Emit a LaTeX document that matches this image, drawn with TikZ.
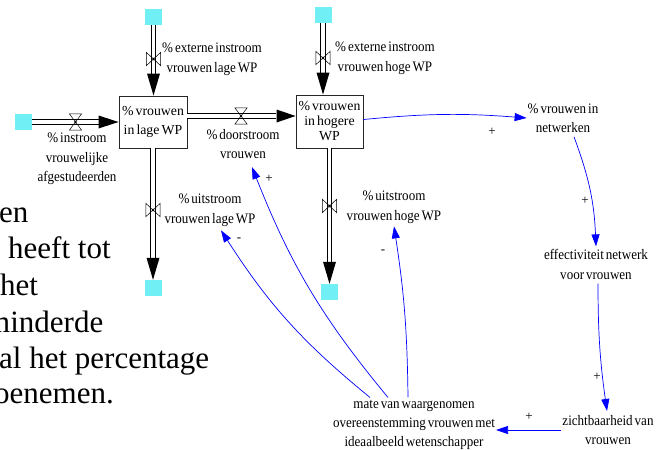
\documentclass[tikz,border=0pt]{standalone}
\usepackage{fontspec}
\setmainfont{Liberation Serif}
\newfontfamily\lblfont{Liberation Serif}
\usetikzlibrary{arrows.meta,calc}
\definecolor{cloudc}{RGB}{112,240,245}
\definecolor{linkblue}{RGB}{0,0,255}
\begin{document}
\begin{tikzpicture}[x=1pt,y=-1pt,
  tightspace/.style={execute at begin node={\spaceskip=0.15em\relax}},
  lbl/.style={font=\lblfont\fontsize{14.5}{19.5}\selectfont, tightspace, align=center, inner sep=1pt, xscale=0.9, transform shape},
  stock/.style={draw=black!85, line width=0.9pt, minimum width=68pt, minimum height=52pt, inner sep=0pt, align=center, tightspace},
  cloud/.style={fill=cloudc, minimum width=17pt, minimum height=16pt, inner sep=0pt},
  pipe/.style={draw=black, line width=1pt, double=white, double distance=3.2pt, shorten >=20pt},
  pipehead/.style={fill=black, draw=none},
  vvalve/.style={minimum width=14pt, minimum height=13pt, inner sep=0pt},
  hvalve/.style={minimum width=12pt, minimum height=16pt, inner sep=0pt},
  valveline/.style={line width=0.5pt},
  link/.style={draw=linkblue, line width=0.7pt, -{Triangle[length=12pt,width=8pt]}},
  sign/.style={font=\lblfont\fontsize{13}{13}\selectfont, inner sep=0pt},
  bgtext/.style={anchor=base west, inner sep=0pt, font=\fontsize{31}{36}\selectfont}
]
\useasboundingbox (0,0) rectangle (667,450);
\fill[white] (0,0) rectangle (667,450);

% background slide text (clipped at the left edge)
\begin{scope}
\clip (0,0) rectangle (667,450);
\node[bgtext] (bg1) at (-1,222) {en};
\node[bgtext] (bg2) at (8,258) {heeft tot};
\node[bgtext] (bg3) at (0,295) {het};
\node[bgtext] (bg4) at (-14,332) {minderde};
\node[bgtext] (bg5) at (-1,368) {al het percentage};
\node[bgtext] (bg6) at (-6,403) {oenemen.};
\end{scope}

% stocks
\node[stock, font=\lblfont\fontsize{13.8}{19}\selectfont] (lage) at (153,122) {\% vrouwen\\in lage WP};
\node[stock, minimum width=67pt, minimum height=53pt, font=\lblfont\fontsize{13.8}{15}\selectfont] (hoge) at (329.5,121.5) {\% vrouwen\\in hogere\\WP};

% clouds
\node[cloud] (c0) at (23.5,122) {};
\node[cloud] (c1) at (153.5,17) {};
\node[cloud] (c2) at (323,15) {};
\node[cloud] (c3) at (153,288) {};
\node[cloud] (c4) at (329.5,292) {};

% flow pipes (double line) and their arrowheads (filled triangles)
\draw[pipe] (c0) -- (lage.west);
\fill[pipehead] (lage.west) -- ++(-20,-6.5) -- ++(0,13) -- cycle;
\draw[pipe] (c1) -- (c1 |- lage.north);
\fill[pipehead] (c1 |- lage.north) -- ++(-6.5,-22) -- ++(13,0) -- cycle;
\draw[pipe] (c2) -- (c2 |- hoge.north);
\fill[pipehead] (c2 |- hoge.north) -- ++(-6.5,-22) -- ++(13,0) -- cycle;
\draw[pipe] ([yshift=6pt]lage.east) -- ([yshift=6pt]lage.east -| hoge.west);
\fill[pipehead] ([yshift=6pt]lage.east -| hoge.west) -- ++(-19,-6.5) -- ++(0,13) -- cycle;
\draw[pipe] (lage.south) -- (c3.north);
\fill[pipehead] (c3.north) -- ++(-6.5,-22) -- ++(13,0) -- cycle;
\draw[pipe] (hoge.south) -- (c4.north);
\fill[pipehead] (c4.north) -- ++(-6.5,-22) -- ++(13,0) -- cycle;

% valves
\node[hvalve] (vin) at (75.5,122) {};
\node[vvalve] (vel) at (153.5,59) {};
\node[vvalve] (veh) at (323,58) {};
\node[hvalve] (vdo) at (241,116) {};
\node[vvalve] (vul) at (153,210) {};
\node[vvalve] (vuh) at (329.5,206) {};
\foreach \v in {vel,veh,vul,vuh}{
  \draw[valveline] (\v.north west) -- (\v.south east) -- (\v.north east) -- (\v.south west) -- cycle;
  \draw[valveline] (\v.center) circle (1pt);
}
\foreach \v in {vin,vdo}{
  \draw[valveline] (\v.north west) -- (\v.north east) -- (\v.south west) -- (\v.south east) -- cycle;
  \draw[valveline] (\v.center) circle (1pt);
}

% labels
\node[lbl] (lel) at (212,59) {\% externe instroom\\vrouwen lage WP};
\node[lbl] (leh) at (385,58) {\% externe instroom\\vrouwen hoge WP};
\node[lbl] (lin) at (77,159) {\% instroom\\vrouwelijke\\afgestudeerden};
\node[lbl] (door) at (243,144) {\% doorstroom\\vrouwen};
\node[lbl] (uitl) at (210,210) {\% uitstroom\\vrouwen lage WP};
\node[lbl] (uith) at (394,207) {\% uitstroom\\vrouwen hoge WP};
\node[lbl] (netw) at (563,118) {\% vrouwen in\\netwerken};
\node[lbl] (eff) at (596,264.5) {effectiviteit netwerk\\voor vrouwen};
\node[lbl] (zicht) at (608,430) {zichtbaarheid van\\vrouwen};
\node[lbl, font=\lblfont\fontsize{14.5}{18.7}\selectfont] (mate) at (414,425) {mate van waargenomen\\overeenstemming vrouwen met\\ideaalbeeld wetenschapper};

% causal links
\draw[link] ([yshift=2pt]hoge.east) to[bend left=5] (netw.west);
\draw[link] ($(netw.south)+(11,3)$) to[bend left=9] ($(eff.north)+(0,-2)$);
\draw[link] ($(eff.south)+(2,3)$) to[bend right=4] ($(zicht.north)+(-1,-3)$);
\draw[link] (zicht.west) -- (zicht.west -| mate.east);
\draw[link] ($(mate.north)+(-6,-2)$) to[bend right=4] ($(uith.south)+(0,2)$);
\draw[link] ($(mate.north)+(-26,-2)$) to[bend left=9] ($(door.south)+(9,7)$);
\draw[link] ($(mate.north)+(-44,-2)$) to[bend left=9] ($(uitl.south)+(11,3)$);

% polarity signs
\node[sign] (s1) at (269,179) {+};
\node[sign] (s2) at (239,240) {-};
\node[sign] (s3) at (383,252) {-};
\node[sign] (s4) at (492,132) {+};
\node[sign] (s5) at (585,201) {+};
\node[sign] (s6) at (597,377) {+};
\node[sign] (s7) at (529,417) {+};
\end{tikzpicture}
\end{document}
